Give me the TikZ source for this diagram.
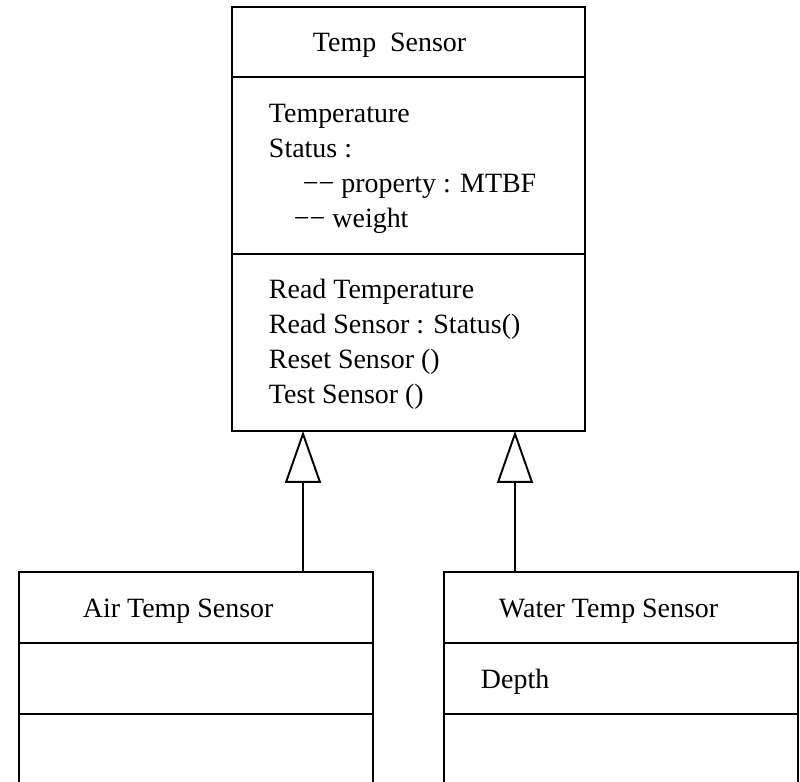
\documentclass[tikz,border=0pt]{standalone}
\usepackage{fontspec}
\setmainfont{Liberation Serif}
\usetikzlibrary{arrows.meta,positioning}

\begin{document}
\begin{tikzpicture}[x=0.02cm,y=-0.02cm,line width=1.1pt,
  txt/.style={anchor=base west,inner sep=0pt,font=\fontsize{15.9pt}{19pt}\selectfont},
  classbox/.style={draw,anchor=north west,inner sep=0pt,outer sep=0pt},
  inherit/.style={-{Triangle[open,length=1.04cm,width=0.72cm]}}]
  \useasboundingbox (0,0) rectangle (800,781);
  \clip (0,0) rectangle (800,781);
  % class boxes
  \node[classbox,minimum width=7.06cm,minimum height=8.48cm] (temp) at (232,7) {};
  \node[classbox,minimum width=7.08cm,minimum height=4.8cm] (air) at (19,572) {};
  \node[classbox,minimum width=7.08cm,minimum height=4.8cm] (water) at (444,572) {};
  \draw (232,77) -- (585,77);
  \draw (232,254) -- (585,254);
  \draw (19,643) -- (373,643);
  \draw (19,714) -- (373,714);
  \draw (444,643) -- (798,643);
  \draw (444,714) -- (798,714);
  % texts
  \node[txt] (tname) at (312,51) {Temp\ \ Sensor};
  \node[txt] (tattr1) at (268,122) {Temperature};
  \node[txt] (tattr2) at (268,157) {Status :};
  \node[txt] (tattr3) at (302,192) {−− property : MTBF};
  \node[txt] (tattr4) at (293,227) {−− weight};
  \node[txt] (top1) at (268,298) {Read Temperature};
  \node[txt] (top2) at (268,333) {Read Sensor : Status()};
  \node[txt] (top3) at (268,368) {Reset Sensor ()};
  \node[txt] (top4) at (268,403) {Test Sensor ()};
  \node[txt] (aname) at (82,617) {Air Temp Sensor};
  \node[txt] (wname) at (498,617) {Water Temp Sensor};
  \node[txt] (wattr) at (480,688) {Depth};
  % generalisation
  \coordinate (airjoin) at (303,572);
  \coordinate (waterjoin) at (515,572);
  \draw[inherit] (airjoin) -- (airjoin |- temp.south);
  \draw[inherit] (waterjoin) -- (waterjoin |- temp.south);
\end{tikzpicture}
\end{document}
